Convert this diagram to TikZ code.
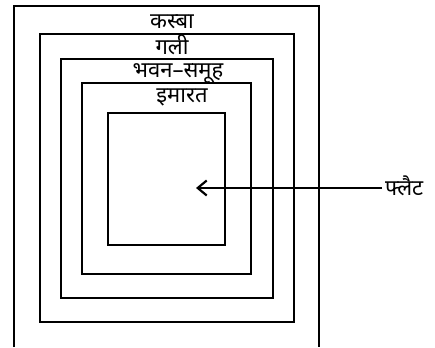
\documentclass[tikz,border=0pt]{standalone}
\usepackage{fontspec}
\newfontfamily\deva[Script=Devanagari]{Noto Sans}
\usetikzlibrary{arrows.meta}

\begin{document}
\begin{tikzpicture}[
    x=1pt, y=-1pt,
    box/.style={draw, line width=1.8pt},
    tag/.style={font=\deva\fontsize{22}{24}\selectfont, inner sep=0pt, anchor=base},
    arrow/.style={-{Straight Barb[length=9pt, width=15pt, line width=2.2pt]}, line width=1.8pt}
]
    \useasboundingbox (0,0) rectangle (435,347);

    % nested areas, outer one open at the bottom
    \draw[box] (14,347) |- (319,6) -- (319,347);
    \draw[box] (40,34) rectangle (294,322);
    \draw[box] (61,59) rectangle (273,298);
    \draw[box] (82,83) rectangle (251,274);
    \draw[box] (108,113) rectangle (225,245);

    \node (kasba) [tag] at (172,29) {कस्बा};
    \node (gali) [tag] at (172,55) {गली};
    \node (bhavan) [tag] at (178,78) {भवन–समूह};
    \node (imarat) [tag] at (182,103) {इमारत};
    \node (flat) [tag, anchor=base west] at (385,195) {फ्लैट};

    \coordinate (tip) at (196,188);
    \draw[arrow, shorten <=3pt] (flat.west |- tip) -- (tip);
\end{tikzpicture}
\end{document}
